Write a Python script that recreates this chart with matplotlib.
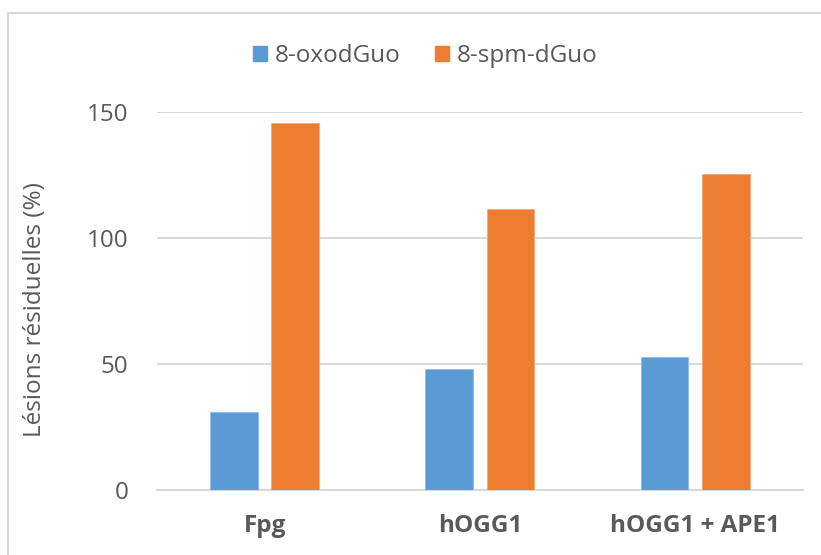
import matplotlib.pyplot as plt
import numpy as np
from matplotlib.patches import Rectangle, Patch

plt.rcParams['font.family'] = ['Open Sans', 'DejaVu Sans']

categories = ['Fpg', 'hOGG1', 'hOGG1 + APE1']
oxo = [31.1, 48.1, 52.6]
spm = [145.6, 111.4, 125.4]
series_names = ['8-oxodGuo', '8-spm-dGuo']

blue = '#5b9bd5'
orange = '#ed7d31'
grey_txt = '#595959'
grid_c = '#d9d9d9'

W, H = 821, 555
fig = plt.figure(figsize=(W / 100, H / 100), dpi=100)
ax = fig.add_axes([157.3 / W, 1 - 490 / H, 645.3 / W, 378 / H])

x = np.arange(len(categories))
w = 0.223
off = 0.142
ax.bar(x - off, oxo, w, color=blue, edgecolor='#8fbce6', linewidth=0.6, zorder=3)
ax.bar(x + off, spm, w, color=orange, edgecolor='#f4a877', linewidth=0.6, zorder=3)

ax.set_xlim(-0.5, 2.5)
ax.set_ylim(0, 150)
ax.set_yticks([0, 50, 100, 150])
ax.set_xticks(x)
ax.set_xticklabels(categories, fontweight='bold')
ax.grid(axis='y', color=grid_c, linewidth=1.5, zorder=0)
for s in ['top', 'right', 'left']:
    ax.spines[s].set_visible(False)
ax.spines['bottom'].set_color(grid_c)
ax.spines['bottom'].set_linewidth(1.5)
ax.tick_params(axis='both', length=0, labelcolor=grey_txt, labelsize=17.5)
ax.tick_params(axis='y', pad=21)
ax.tick_params(axis='x', pad=17)

fig.text(35 / W, 1 - 310 / H, 'Lésions résiduelles (%)', rotation=90,
         ha='center', va='center', color=grey_txt, fontsize=17.5)

handles = [Patch(color=blue), Patch(color=orange)]
fig.legend(handles, series_names, loc='center', bbox_to_anchor=(425 / W, 1 - 56 / H),
           ncol=2, frameon=False, fontsize=17.5, labelcolor=grey_txt,
           handlelength=0.6, handleheight=0.6, handletextpad=0.3, columnspacing=1.4)

fig.patches.append(Rectangle((8, H - 13 - 600), 900, 600, transform=None,
                             fill=False, edgecolor=grid_c, linewidth=1.5))

fig.savefig('out.png', dpi=100)
